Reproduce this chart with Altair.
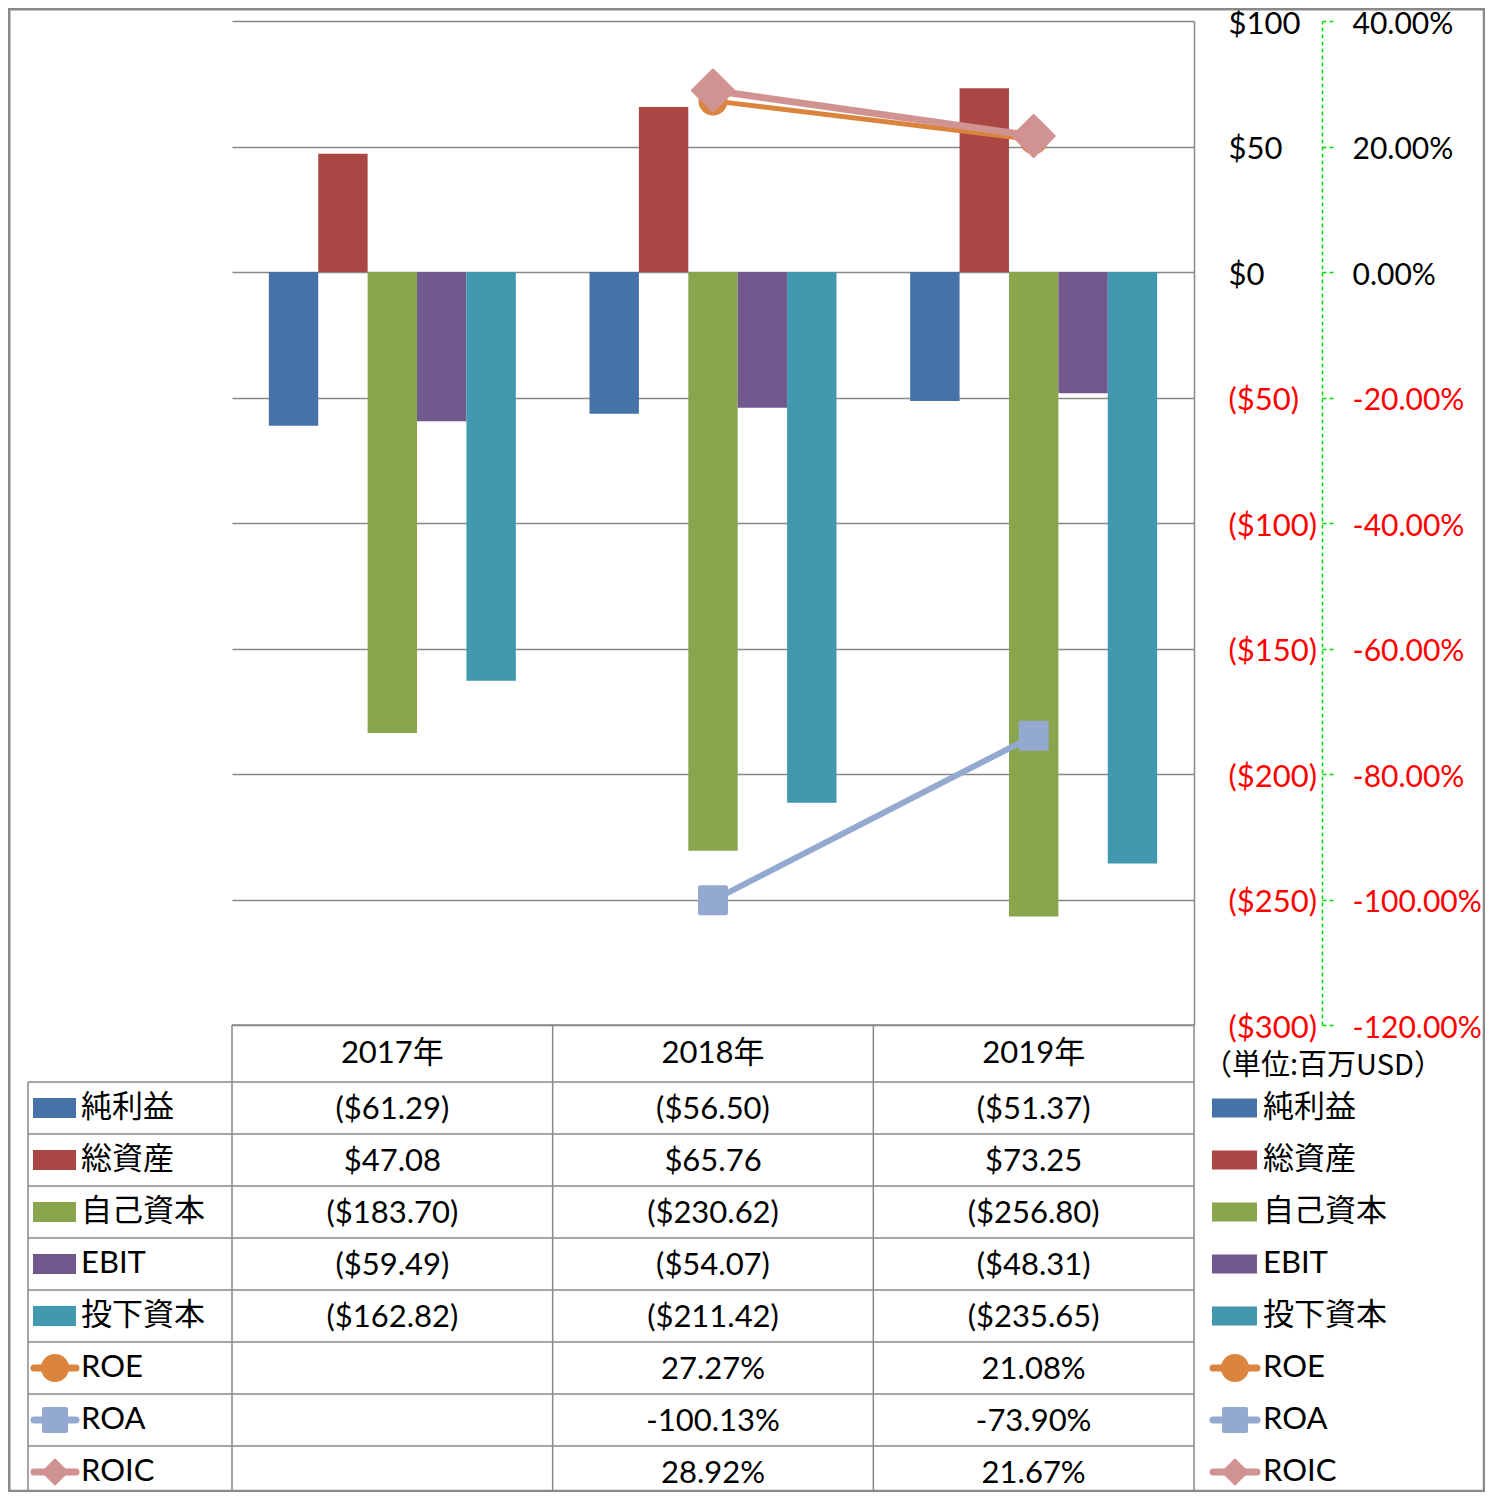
import altair as alt
import pandas as pd

# ---------------- data ----------------
years = ["2017年", "2018年", "2019年"]
bar_series = ["純利益", "総資産", "自己資本", "EBIT", "投下資本"]
net_income = [-61.29, -56.50, -51.37]
total_assets = [47.08, 65.76, 73.25]
equity = [-183.70, -230.62, -256.80]
ebit = [-59.49, -54.07, -48.31]
invested_capital = [-162.82, -211.42, -235.65]
line_series = ["ROE", "ROA", "ROIC"]
roe = [None, 27.27, 21.08]
roa = [None, -100.13, -73.90]
roic = [None, 28.92, 21.67]
usd_ticks = [-300, -250, -200, -150, -100, -50, 0, 50, 100]
pct_ticks = [-1.2, -1.0, -0.8, -0.6, -0.4, -0.2, 0.0, 0.2, 0.4]
unit_note = "（単位:百万USD）"

bar_values = [net_income, total_assets, equity, ebit, invested_capital]
line_values = [roe, roa, roic]
all_series = bar_series + line_series

# ---------------- style ----------------
colors = ["#4572A7", "#AA4643", "#89A54E", "#71588F", "#4198AF",
          "#DB843D", "#93A9CF", "#D19392"]
FONT = "Lato, 'Noto Sans CJK JP', sans-serif"
FS = 31
GRID = "#898989"
GREEN = "#00E000"
RED = "#FF0000"
line_style = {
    "ROE": dict(shape="circle", width=5, size=841, stroke=0, lsize=784, lstroke=0),
    "ROA": dict(shape="square", width=6, size=676, stroke=4, lsize=484, lstroke=4),
    "ROIC": dict(shape="diamond", width=7, size=1681, stroke=3, lsize=625, lstroke=2),
}

# ---------------- layout (reference pixels) ----------------
PAGE = 8                      # page margin of the html page
SVG_W, SVG_H = 1493 - 2 * PAGE, 1500 - 2 * PAGE
PLOT_L, PLOT_R, PLOT_T, PLOT_B = 232, 1194, 21, 1025
ROW0, ROW_H = 1082, 52
FRAME_R, FRAME_B = PAGE + SVG_W - 1, PAGE + SVG_H - 1
W = PLOT_R - PLOT_L
H = PLOT_B - PLOT_T
COL = W / 3.0
BW = 49.4 / COL


def U(px):
    return (px - PLOT_L) / COL


def R(py):
    return (py - ROW0) / ROW_H


xs = alt.Scale(domain=[0, 3], nice=False, zero=False)
usd_scale = alt.Scale(domain=[-300, 100], nice=False, zero=False)
pct_scale = alt.Scale(domain=[-1.2, 0.4], nice=False, zero=False)
ts = alt.Scale(domain=[R(PLOT_T), R(PLOT_B)], reverse=True, nice=False, zero=False)
cs = alt.Scale(domain=all_series, range=colors)
neg_red = {"condition": {"test": "datum.value < 0", "value": RED}, "value": "black"}


def col_enc():
    return alt.Color("series:N", scale=cs, legend=None)


# ---------------- bars ----------------
bar_rows = [
    {"year": y, "yi": yi, "series": s, "si": si, "value": vals[yi]}
    for si, (s, vals) in enumerate(zip(bar_series, bar_values))
    for yi, y in enumerate(years)
]
usd_axis = alt.Axis(
    orient="right", values=usd_ticks, title="",
    labelExpr="datum.value < 0 ? '($' + format(-datum.value, 'd') + ')' : '$' + format(datum.value, 'd')",
    labelColor=neg_red, labelFont=FONT, labelFontSize=FS, labelPadding=34,
    labelAlign="left", labelBaseline="middle", labelOverlap=False, labelOffset=3,
    ticks=False, domain=True, domainColor=GRID, domainWidth=1.5,
    grid=True, gridColor=GRID, gridWidth=1.5,
)
bars = (
    alt.Chart(pd.DataFrame(bar_rows))
    .transform_calculate(
        x0=f"datum.yi + 0.5 + (datum.si - 2.5) * {BW}",
        x1=f"datum.yi + 0.5 + (datum.si - 1.5) * {BW}",
    )
    .mark_bar()
    .encode(
        x=alt.X("x0:Q", scale=xs, axis=None),
        x2="x1:Q",
        y=alt.Y("value:Q", scale=usd_scale, axis=usd_axis),
        y2=alt.Y2(datum=0),
        color=col_enc(),
    )
)

# ---------------- lines ----------------
pct_axis = alt.Axis(
    orient="right", offset=128, values=pct_ticks, title="",
    labelExpr="(datum.value < 0 ? '-' : '') + format(abs(datum.value) * 100, '.2f') + '%'",
    labelColor=neg_red, labelFont=FONT, labelFontSize=30, labelPadding=19,
    labelAlign="left", labelBaseline="middle", labelOverlap=False, labelOffset=3,
    ticks=True, tickSize=11, tickColor=GREEN, tickDash=[4, 3], tickWidth=1.5,
    domain=True, domainColor=GREEN, domainDash=[4, 3], domainWidth=1.5,
    grid=False,
)
line_layers = []
for li, (s, vals) in enumerate(zip(line_series, line_values)):
    st = line_style[s]
    df = pd.DataFrame([
        {"series": s, "yi": yi, "v": v / 100.0}
        for yi, v in enumerate(vals) if v is not None
    ])
    base = alt.Chart(df).transform_calculate(u="datum.yi + 0.5")
    yenc = alt.Y("v:Q", scale=pct_scale, axis=pct_axis if li == 0 else None)
    line_layers.append(
        base.mark_line(strokeWidth=st["width"], strokeJoin="round").encode(
            x=alt.X("u:Q", scale=xs, axis=None), y=yenc, color=col_enc()
        )
    )
    line_layers.append(
        base.mark_point(
            filled=True, shape=st["shape"], size=st["size"], opacity=1,
            stroke=colors[5 + li], strokeWidth=st["stroke"], strokeJoin="round",
        ).encode(
            x=alt.X("u:Q", scale=xs, axis=None),
            y=alt.Y("v:Q", scale=pct_scale, axis=None),
            color=col_enc(),
        )
    )

# ---------------- data table ----------------
def money(v):
    return f"(${abs(v):.2f})" if v < 0 else f"${v:.2f}"


def pct(v):
    return "" if v is None else f"{v:.2f}%"


cell_rows = []
for k, (s, vals) in enumerate(zip(all_series, bar_values + line_values)):
    for yi in range(len(years)):
        v = vals[yi]
        txt = money(v) if k < len(bar_series) else pct(v)
        cell_rows.append({"k": k, "yi": yi, "text": txt})

table_text = (
    alt.Chart(pd.DataFrame(cell_rows))
    .transform_calculate(u="datum.yi + 0.5", r="datum.k + 0.54")
    .mark_text(font=FONT, fontSize=FS, align="center", baseline="middle", color="black")
    .encode(
        x=alt.X("u:Q", scale=xs, axis=None),
        y=alt.Y("r:Q", scale=ts, axis=None),
        text=alt.Text("text:N"),
    )
)
header_r = (R(PLOT_B) + 0.0) / 2.0
header_text = (
    alt.Chart(pd.DataFrame({"year": years, "yi": list(range(len(years)))}))
    .transform_calculate(u="datum.yi + 0.5", r=f"{header_r}")
    .mark_text(font=FONT, fontSize=FS, align="center", baseline="middle", color="black")
    .encode(
        x=alt.X("u:Q", scale=xs, axis=None),
        y=alt.Y("r:Q", scale=ts, axis=None),
        text=alt.Text("year:N"),
    )
)

n_rows = len(all_series)
r_bottom = R(FRAME_B)
rule_rows = [{"u0": 0.0, "u1": 3.0, "r0": R(PLOT_B), "r1": R(PLOT_B)}]
rule_rows += [{"u0": U(28), "u1": 3.0, "r0": float(k), "r1": float(k)} for k in range(n_rows)]
rule_rows += [{"u0": float(c), "u1": float(c), "r0": R(PLOT_B), "r1": r_bottom} for c in range(4)]
rule_rows += [{"u0": U(28), "u1": U(28), "r0": 0.0, "r1": r_bottom}]
table_rules = (
    alt.Chart(pd.DataFrame(rule_rows))
    .mark_rule(color=GRID, strokeWidth=1.5)
    .encode(
        x=alt.X("u0:Q", scale=xs, axis=None), x2="u1:Q",
        y=alt.Y("r0:Q", scale=ts, axis=None), y2="r1:Q",
    )
)

# ---------------- legend keys (table left column + right side) ----------------
def legend_layers(rect_l, rect_r, text_x, half_h):
    out = []
    bar_leg = pd.DataFrame({"series": bar_series, "k": list(range(len(bar_series)))})
    out.append(
        alt.Chart(bar_leg)
        .transform_calculate(
            u0=f"{U(rect_l)}", u1=f"{U(rect_r)}",
            r0=f"datum.k + 0.5 - {half_h / ROW_H}", r1=f"datum.k + 0.5 + {half_h / ROW_H}",
        )
        .mark_rect()
        .encode(
            x=alt.X("u0:Q", scale=xs, axis=None), x2="u1:Q",
            y=alt.Y("r0:Q", scale=ts, axis=None), y2="r1:Q",
            color=col_enc(),
        )
    )
    for li, s in enumerate(line_series):
        st = line_style[s]
        d = pd.DataFrame({"series": [s], "k": [len(bar_series) + li]})
        b = alt.Chart(d).transform_calculate(
            u0=f"{U(rect_l + 1)}", u1=f"{U(rect_r)}",
            um=f"{U((rect_l + rect_r) / 2.0 + 0.5)}", r="datum.k + 0.5",
        )
        out.append(
            b.mark_rule(strokeWidth=7, strokeCap="round").encode(
                x=alt.X("u0:Q", scale=xs, axis=None), x2="u1:Q",
                y=alt.Y("r:Q", scale=ts, axis=None), color=col_enc(),
            )
        )
        out.append(
            b.mark_point(
                filled=True, shape=st["shape"], size=st["lsize"], opacity=1,
                stroke=colors[5 + li], strokeWidth=st["lstroke"], strokeJoin="round",
            ).encode(
                x=alt.X("um:Q", scale=xs, axis=None),
                y=alt.Y("r:Q", scale=ts, axis=None), color=col_enc(),
            )
        )
    lab = pd.DataFrame({"series": all_series, "k": list(range(len(all_series)))})
    out.append(
        alt.Chart(lab)
        .transform_calculate(u=f"{U(text_x)}", r="datum.k + 0.5")
        .mark_text(font=FONT, fontSize=FS, align="left", baseline="middle", color="black")
        .encode(
            x=alt.X("u:Q", scale=xs, axis=None),
            y=alt.Y("r:Q", scale=ts, axis=None),
            text=alt.Text("series:N"),
        )
    )
    return out


left_legend = legend_layers(33, 76, 81, 10)
right_legend = legend_layers(1212, 1257, 1263, 9.5)

note = (
    alt.Chart(pd.DataFrame({"text": [unit_note]}))
    .transform_calculate(u=f"{U(1203)}", r=f"{R(1066)}")
    .mark_text(font="'Noto Sans CJK JP', sans-serif", fontSize=29, align="left",
               baseline="middle", color="black")
    .encode(
        x=alt.X("u:Q", scale=xs, axis=None),
        y=alt.Y("r:Q", scale=ts, axis=None),
        text=alt.Text("text:N"),
    )
)

frame = (
    alt.Chart(pd.DataFrame([{"u0": U(PAGE + 1.25), "u1": U(FRAME_R),
                             "r0": R(PAGE + 1.25), "r1": R(FRAME_B)}]))
    .mark_rect(fill="transparent", stroke=GRID, strokeWidth=2.5)
    .encode(
        x=alt.X("u0:Q", scale=xs, axis=None), x2="u1:Q",
        y=alt.Y("r0:Q", scale=ts, axis=None), y2="r1:Q",
    )
)

chart = (
    alt.layer(frame, table_rules, header_text, table_text, note,
              *left_legend, *right_legend, bars, *line_layers)
    .resolve_scale(y="independent")
    .properties(
        width=W, height=H,
        autosize=alt.AutoSizeParams(type="none"),
        padding={"left": PLOT_L - PAGE, "top": PLOT_T - PAGE,
                 "right": SVG_W - (PLOT_R - PAGE), "bottom": SVG_H - (PLOT_B - PAGE)},
    )
    .configure_view(stroke="transparent")
)

chart.save("out.html", embed_options={"renderer": "svg", "actions": False})
